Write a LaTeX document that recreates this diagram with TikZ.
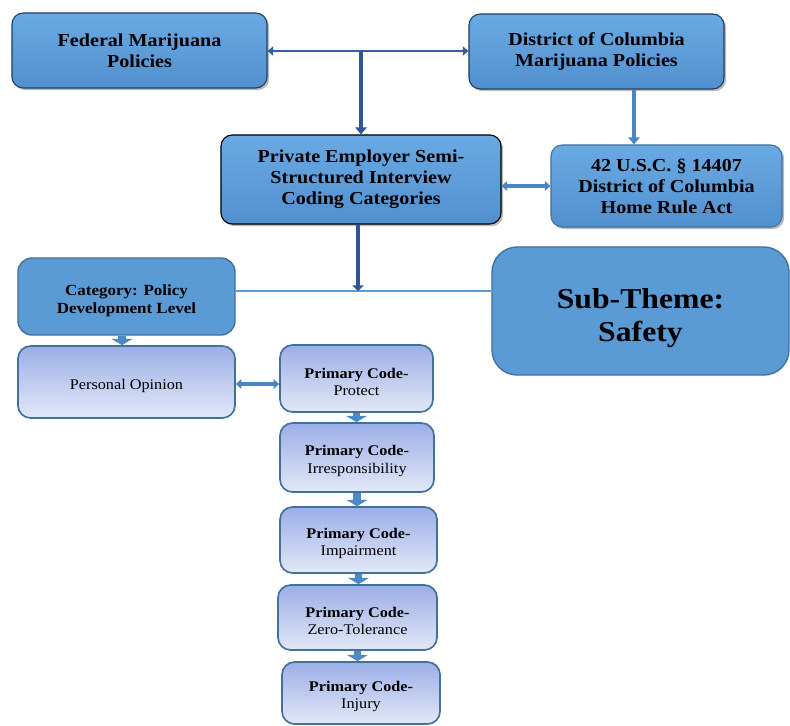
\documentclass[tikz,border=0pt]{standalone}
\usepackage{fontspec}
\setmainfont[FakeStretch=1.1]{Liberation Serif}
\usepackage{xcolor}
\usetikzlibrary{arrows.meta, shadows}

\definecolor{boxblue}{HTML}{5B9BD5}
\definecolor{boxtop}{HTML}{6AAAE3}
\definecolor{boxbot}{HTML}{5190CE}
\definecolor{boxedge}{HTML}{41719C}
\definecolor{darkedge}{HTML}{1F3F66}
\definecolor{lavtop}{HTML}{9BAEE6}
\definecolor{lavbot}{HTML}{E3E8F8}
\definecolor{arrblue}{HTML}{4A86C5}
\definecolor{deepblue}{HTML}{2F5597}
\definecolor{lineblue}{HTML}{5B9BD5}

\tikzset{
  topbox/.style={rectangle, rounded corners=8pt, top color=boxtop, bottom color=boxbot,
    draw=darkedge, line width=0.8pt, align=center, inner sep=2pt,
    drop shadow={shadow xshift=1.5pt, shadow yshift=-1.5pt, opacity=0.55},
    font=\fontsize{13}{15}\selectfont\bfseries},
  catbox/.style={rectangle, rounded corners=10pt, fill=boxblue, draw=boxedge,
    line width=1pt, align=center, inner sep=2pt},
  codebox/.style={rectangle, rounded corners=9pt, top color=lavtop, bottom color=lavbot,
    draw=boxedge, line width=1.2pt, align=center, inner sep=2pt,
    font=\fontsize{10.5}{12.5}\selectfont},
  blockarr/.style={arrblue!85!boxblue, line width=5pt, -{Triangle[width=15pt, length=4.5pt]}},
  twoway/.style={arrblue, line width=2.5pt, {Triangle[width=7pt, length=4pt]}-{Triangle[width=7pt, length=4pt]}}
}

\begin{document}
\begin{tikzpicture}[x=0.025cm, y=-0.025cm]
        % Fix the page
        \useasboundingbox (0,0) rectangle (790,725);

        % Policy boxes on top
        \node[topbox, minimum width=6.375cm, minimum height=1.875cm] (fed) at (139.5,50.5) {Federal Marijuana\\Policies};
        \node[topbox, minimum width=6.375cm, minimum height=1.875cm] (dc) at (596.5,51.5) {District of Columbia\\Marijuana Policies};
        \node[topbox, draw=black, minimum width=7cm, minimum height=2.225cm] (priv) at (361,179.5) {Private Employer Semi-\\Structured Interview\\Coding Categories};
        \node[topbox, drop shadow={opacity=0}, draw=boxedge, minimum width=5.775cm, minimum height=2.05cm] (usc) at (666.5,186) {42 U.S.C. \S\ 14407\\District of Columbia\\Home Rule Act};

        % Category and sub-theme (strut pushes the text a little down)
        \node[catbox, minimum width=5.425cm, minimum height=1.925cm, font=\fontsize{11}{12.5}\selectfont\bfseries] (cat) at (126.5,296.5) {\rule{0pt}{14pt}Category: Policy\\Development Level};
        \node[catbox, rounded corners=18pt, minimum width=7.425cm, minimum height=3.2cm, font=\fontsize{20.5}{23.5}\selectfont\bfseries] (sub) at (640.5,311) {\rule{0pt}{24pt}Sub-Theme:\\Safety};

        % Codes
        \node[codebox, minimum width=5.425cm, minimum height=1.8cm] (opin) at (126.5,382) {\rule{0pt}{13pt}Personal Opinion};
        \node[codebox, minimum width=3.825cm, minimum height=1.675cm] (protect) at (356.5,378.5) {\rule{0pt}{12pt}\textbf{Primary Code-}\\Protect};
        \node[codebox, minimum width=3.85cm, minimum height=1.725cm] (irresp) at (357,457.5) {\rule{0pt}{12pt}\textbf{Primary Code-}\\Irresponsibility};
        \node[codebox, minimum width=3.925cm, minimum height=1.65cm] (impair) at (358.5,540) {\rule{0pt}{12pt}\textbf{Primary Code-}\\Impairment};
        \node[codebox, minimum width=3.975cm, minimum height=1.625cm] (zero) at (357.5,617.5) {\rule{0pt}{12pt}\textbf{Primary Code-}\\Zero-Tolerance};
        \node[codebox, minimum width=3.95cm, minimum height=1.55cm] (injury) at (361,693) {\rule{0pt}{12pt}\textbf{Primary Code-}\\Injury};

        % Junction points
        \coordinate (junc) at (361,51);
        \coordinate (tee) at (358,291);
        \coordinate (dcdrop) at (634,89);

        % Arrows between the top boxes
        \draw[deepblue!80!arrblue, line width=2pt, {Triangle[width=6.5pt, length=4pt]}-{Triangle[width=6.5pt, length=4pt]}] (fed.east |- junc) -- (junc -| dc.west);
        \draw[deepblue, line width=3.5pt, -{Triangle[width=8pt, length=5pt]}] (junc) -- (priv.north);
        \draw[arrblue, line width=3pt, -{Triangle[width=8pt, length=5pt]}] (dcdrop |- dc.south) -- (dcdrop |- usc.north);
        \draw[twoway] (usc.west -| priv.east) -- (usc.west);

        % Line to category and sub-theme
        \draw[lineblue, line width=1.6pt] (cat.east |- tee) -- (tee -| sub.west);
        \draw[deepblue, line width=3.5pt, -{Triangle[width=8pt, length=4pt]}] (priv.south -| tee) -- (tee);

        % Code chain
        \draw[blockarr] ([xshift=-4.5*0.025cm]cat.south) -- ([xshift=-4.5*0.025cm]opin.north);
        \draw[twoway] (opin.east |- protect.center) ++(0,5.5) coordinate (ol) -- (ol -| protect.west);
        \draw[blockarr] (protect.south) -- (protect.south |- irresp.north);
        \draw[blockarr] (irresp.south) -- (irresp.south |- impair.north);
        \draw[blockarr] (impair.south) -- (impair.south |- zero.north);
        \draw[blockarr] (zero.south) -- (zero.south |- injury.north);
    \end{tikzpicture}
\end{document}
